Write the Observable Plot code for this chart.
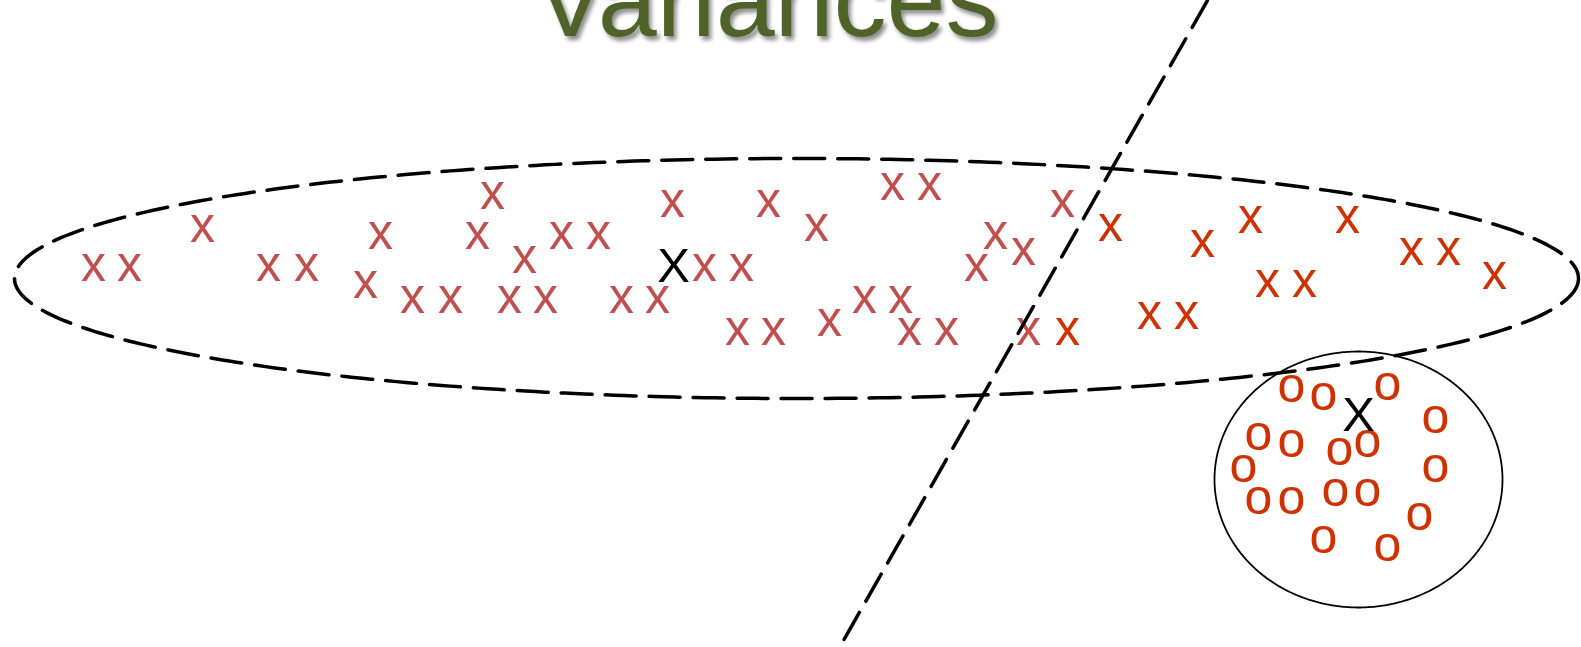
<!DOCTYPE html>
<html>
<head>
<meta charset="utf-8">
<script src="https://cdn.jsdelivr.net/npm/d3@7"></script>
<script src="https://cdn.jsdelivr.net/npm/@observablehq/plot@0.6"></script>
<style>
  html, body { margin: 0; padding: 0; background: #fff; overflow: hidden; }
  #wrap { position: relative; width: 1581px; height: 647px; overflow: hidden; }
  #title {
    position: absolute; left: 535px; top: -54px;
    font-family: "Liberation Sans", Arial, sans-serif;
    font-size: 106px; line-height: 1; color: #4f6228; white-space: nowrap;
    text-shadow: 3px 4px 4px rgba(0, 0, 0, 0.45);
  }
  #chart { position: absolute; left: 0; top: 0; }
</style>
</head>
<body>
<div id="wrap">
  <div id="chart"></div>
  <div id="title">Variances</div>
</div>
<script>
// Wide class: spread along the horizontal axis (points left of the boundary)
const wideLeft = [
  [93, 267], [129, 267], [202, 228], [268, 267], [306, 267], [380, 235],
  [365, 284], [412, 299], [450, 299], [492, 195], [477, 235], [524, 259],
  [509, 299], [545, 299], [561, 235], [598, 235], [621, 299], [657, 299],
  [704, 267], [741, 267], [672, 203], [768, 203], [816, 227], [737, 331],
  [773, 331], [829, 322], [864, 299], [900, 299], [892, 186], [929, 186],
  [909, 331], [946, 331], [976, 267], [995, 235], [1023, 251], [1062, 203],
  [1028, 331]
];
// Wide class points that fall on the far side of the boundary
const wideRight = [
  [1067, 331], [1110, 227], [1202, 243], [1250, 219], [1347, 219],
  [1149, 315], [1186, 315], [1267, 283], [1304, 283], [1411, 251],
  [1448, 251], [1494, 275]
];
// Compact class
const compact = [
  [1291, 388], [1323, 396], [1387, 386], [1435, 419], [1258, 436],
  [1291, 443], [1339, 451], [1367, 443], [1243, 468], [1435, 468],
  [1258, 500], [1291, 500], [1335, 492], [1367, 492], [1419, 516],
  [1323, 539], [1387, 547]
];
// Class means
const means = [[673, 264], [1358, 413]];

// Covariance contours: [cx, cy, rx, ry]
const wideContour = [796, 278, 782, 120];
const compactContour = [1358, 479, 144, 128];

// Decision boundary end points
const boundary = [[1207, 0], [839, 647]];

const W = 1581, H = 647;
const fontFamily = "Liberation Sans, Arial, sans-serif";

function outline([cx, cy, rx, ry]) {
  const n = 480;
  return d3.range(n + 1).map(i => {
    const t = (i / n) * 2 * Math.PI;
    return [cx + rx * Math.cos(t), cy + ry * Math.sin(t)];
  });
}

const px = d => d[0], py = d => d[1];

const chart = Plot.plot({
  width: W,
  height: H,
  margin: 0,
  x: {domain: [0, W], range: [0, W], axis: null},
  y: {domain: [0, H], range: [0, H], axis: null},
  style: {background: "transparent", overflow: "hidden", fontFamily},
  marks: [
    Plot.text(wideLeft, {x: px, y: py, text: () => "x", fill: "#c0504d", fontSize: 50, fontFamily, dy: -3}),
    Plot.text(wideRight, {x: px, y: py, text: () => "x", fill: "#cc3300", fontSize: 50, fontFamily, dy: -3}),
    Plot.text(compact, {x: px, y: py, text: () => "o", fill: "#cc3300", fontSize: 50, fontFamily, dy: -3}),
    Plot.text(means, {x: px, y: py, text: () => "X", fill: "#000", fontSize: 49, fontFamily, dy: 2}),
    Plot.line(outline(compactContour), {x: px, y: py, stroke: "#000", strokeWidth: 1.8, curve: "linear"}),
    Plot.line(outline(wideContour), {x: px, y: py, stroke: "#000", strokeWidth: 3.5, strokeDasharray: "31,13", curve: "linear"}),
    Plot.line(boundary, {x: px, y: py, stroke: "#000", strokeWidth: 3.5, strokeDasharray: "31,13"})
  ]
});
document.getElementById("chart").append(chart);
</script>
</body>
</html>
